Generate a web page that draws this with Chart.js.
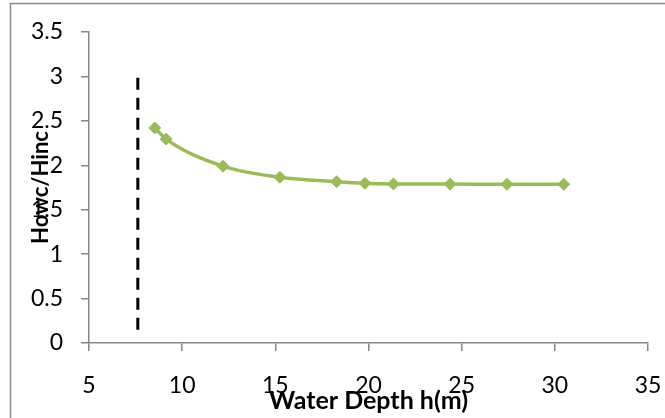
<!DOCTYPE html>
<html>
<head>
<meta charset="utf-8">
<script src="https://cdn.jsdelivr.net/npm/chart.js@4.4.0/dist/chart.umd.min.js"></script>
<style>
html,body{margin:0;padding:0;background:#fff;}
#wrap{position:relative;width:665px;height:418px;}
</style>
</head>
<body>
<div id="wrap"><canvas id="c" width="665" height="418"></canvas></div>
<script>
const depths = [8.53, 9.14, 12.19, 15.24, 18.29, 19.81, 21.34, 24.38, 27.43, 30.48];
const ratio = [2.42, 2.295, 1.99, 1.865, 1.815, 1.797, 1.79, 1.788, 1.786, 1.786];
const limitX = [7.62, 7.62];
const limitY = [0.15, 3.0];
const xTicks = [5, 10, 15, 20, 25, 30, 35];
const yTicks = [0, 0.5, 1, 1.5, 2, 2.5, 3, 3.5];

const FONT = "Lato, 'Open Sans', sans-serif";
const green = '#9BBB59';

const framePlugin = {
  id: 'frame',
  afterDraw(chart) {
    const ctx = chart.ctx;
    ctx.save();
    ctx.strokeStyle = '#8c8c8c';
    ctx.lineWidth = 1.5;
    ctx.beginPath();
    ctx.moveTo(10.5, 418);
    ctx.lineTo(10.5, 3.5);
    ctx.lineTo(665, 3.5);
    ctx.stroke();
    ctx.restore();
  }
};

new Chart(document.getElementById('c'), {
  type: 'line',
  data: {
    datasets: [
      {
        data: depths.map((x, i) => ({x: x, y: ratio[i]})),
        borderColor: green,
        backgroundColor: green,
        borderWidth: 3.5,
        pointStyle: 'rectRot',
        pointRadius: 6,
        pointHoverRadius: 6,
        pointBackgroundColor: green,
        pointBorderColor: green,
        pointBorderWidth: 1,
        cubicInterpolationMode: 'monotone',
        fill: false
      },
      {
        data: limitX.map((x, i) => ({x: x, y: limitY[i]})),
        borderColor: '#000',
        borderWidth: 3,
        borderDash: [12, 8],
        pointRadius: 0,
        fill: false
      }
    ]
  },
  options: {
    responsive: false,
    animation: false,
    layout: {padding: {left: 0, right: 17, top: 32, bottom: 0}},
    plugins: {legend: {display: false}, tooltip: {enabled: false}},
    scales: {
      x: {
        type: 'linear',
        min: 5, max: 35,
        afterBuildTicks(s) { s.ticks = xTicks.map(v => ({value: v})); },
        afterFit(s) { s.height = 75; s.paddingRight = 0; s.paddingLeft = 0; },
        grid: {drawOnChartArea: false, drawTicks: true, tickLength: 8, color: '#868686', lineWidth: 1.5},
        border: {display: true, color: '#868686', width: 1.5},
        ticks: {color: '#000', font: {family: FONT, size: 23}, padding: 21, maxRotation: 0,
                callback: v => String(v)},
        title: {display: true, text: 'Water Depth h(m)', color: '#000', font: {family: FONT, size: 25, weight: 'bold'}, padding: {top: 0, bottom: 2}}
      },
      y: {
        min: 0, max: 3.5,
        afterBuildTicks(s) { s.ticks = yTicks.map(v => ({value: v})); },
        afterFit(s) { s.width = 89; s.paddingTop = 0; s.paddingBottom = 0; },
        grid: {drawOnChartArea: false, drawTicks: true, tickLength: 8, color: '#868686', lineWidth: 1.5},
        border: {display: true, color: '#868686', width: 1.5},
        ticks: {color: '#000', font: {family: FONT, size: 23}, padding: 18,
                callback: v => String(v)},
        title: {display: true, text: 'Howc/Hinc', color: '#000', font: {family: FONT, size: 22, weight: 'bold'}, padding: {top: 28, bottom: 0}}
      }
    }
  },
  plugins: [framePlugin]
});
</script>
</body>
</html>
